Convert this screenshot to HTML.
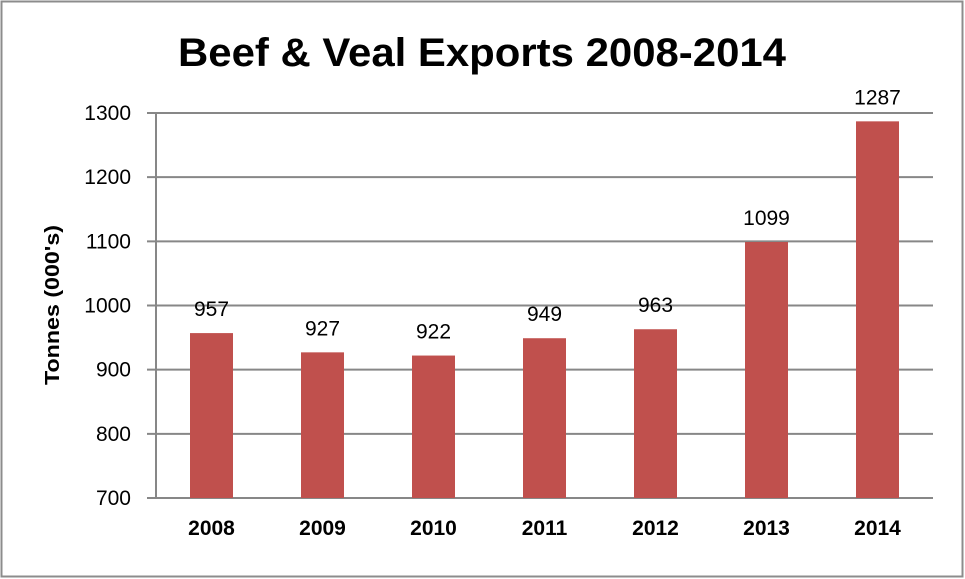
<!DOCTYPE html>
<html><head><meta charset="utf-8"><style>
html,body{margin:0;padding:0;background:#fff;}
svg{display:block;font-family:"Liberation Sans",Arial,sans-serif;}
</style></head><body>
<svg id="chart" width="965" height="579" viewBox="0 0 965 579" xmlns="http://www.w3.org/2000/svg">
<rect x="1.5" y="1.5" width="961" height="575" fill="#fff" stroke="#8c8c8c" stroke-width="2"/>
<text x="482" y="66" text-anchor="middle" font-size="40" font-weight="bold" textLength="608" lengthAdjust="spacingAndGlyphs" fill="#000">Beef &amp; Veal Exports 2008-2014</text>
<text transform="translate(59,305) rotate(-90)" text-anchor="middle" font-size="20" font-weight="bold" textLength="160" lengthAdjust="spacingAndGlyphs">Tonnes (000's)</text>
<g id="grid"></g><g id="bars"></g><g id="axes"></g>
</svg>
<script>
const categories = ["2008","2009","2010","2011","2012","2013","2014"];
const values = [957,927,922,949,963,1099,1287];
const yTicks = [700,800,900,1000,1100,1200,1300];
const NS="http://www.w3.org/2000/svg";
const L=156,R=933,T=113,B=498,yMin=700,yMax=1300;
const bw=(R-L)/categories.length;
function y(v){return B-(v-yMin)/(yMax-yMin)*(B-T);}
function x(i){return L+bw*(i+0.5);}
function mk(tag,attrs,parent,txt){const e=document.createElementNS(NS,tag);for(const k in attrs)e.setAttribute(k,attrs[k]);if(txt!==undefined)e.textContent=txt;parent.appendChild(e);return e;}
const g=document.getElementById('grid'),b=document.getElementById('bars'),a=document.getElementById('axes');
yTicks.forEach(t=>{
  const ln=mk('line',{x1:147,x2:R,y1:y(t),y2:y(t),stroke:'#878787','stroke-width':2},g);
  
  
  const tx=mk('text',{x:131,y:y(t)+7,'text-anchor':'end','font-size':21,fill:'#000'},a,t);
  
  
});
const ax=mk('line',{x1:L,x2:L,y1:T,y2:B,stroke:'#878787','stroke-width':2},a);


categories.forEach((c,i)=>{
  const cx=x(i),v=values[i];
  const r=mk('rect',{x:cx-21.5,y:y(v),width:43,height:B-y(v),fill:'#c0504d'},b);
  
  
  const lb=mk('text',{x:cx,y:y(v)-17,'text-anchor':'middle','font-size':21,fill:'#000'},b,String(v));
  
  
  const cl=mk('text',{x:cx,y:535,'text-anchor':'middle','font-size':21,'font-weight':'bold',fill:'#000'},a,c);
  
  
});
</script>
</body></html>
